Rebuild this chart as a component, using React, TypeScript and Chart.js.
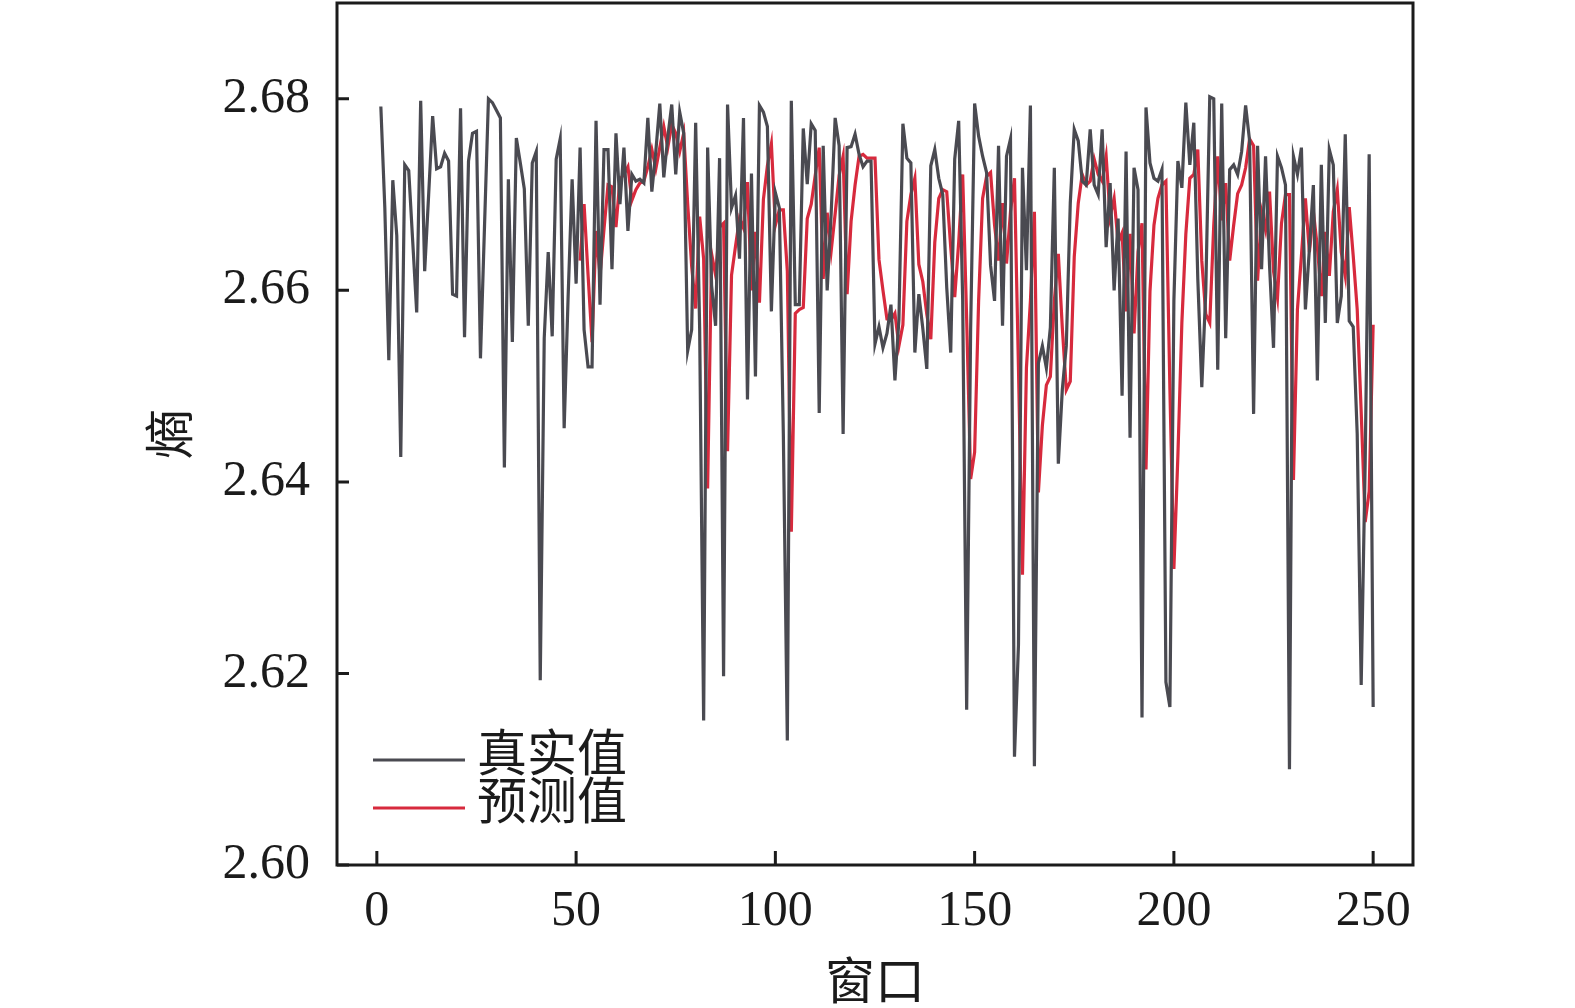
import React, { useEffect, useRef } from "react";
import { Chart, registerables } from "chart.js";

Chart.register(...registerables);

// window index of the first predicted value
const predStart = 51;

const trueValues = [
  2.6792, 2.6686, 2.6527, 2.6715, 2.6657, 2.6426, 2.6731, 2.6725, 2.6651, 2.6577,
  2.6798, 2.662, 2.67, 2.6782, 2.6727, 2.6729, 2.6743, 2.6735, 2.6596, 2.6594,
  2.679, 2.6551, 2.6735, 2.6764, 2.6766, 2.6529, 2.6665, 2.68, 2.6796, 2.6788,
  2.678, 2.6415, 2.6716, 2.6546, 2.6759, 2.6733, 2.6706, 2.6563, 2.6733, 2.6745,
  2.6193, 2.655, 2.664, 2.6552, 2.6737, 2.6758, 2.6456, 2.6594, 2.6716, 2.6607,
  2.6749, 2.6559, 2.652, 2.652, 2.6777, 2.6585, 2.6747, 2.6747, 2.6622, 2.6764,
  2.669, 2.6749, 2.6662, 2.6721, 2.6714, 2.6716, 2.6712, 2.678, 2.6703, 2.6745,
  2.6795, 2.6718, 2.676, 2.6794, 2.6721, 2.6786, 2.6764, 2.6537, 2.6559, 2.6775,
  2.656, 2.6151, 2.6749, 2.6605, 2.6563, 2.6738, 2.6197, 2.6794, 2.6686, 2.6699,
  2.6633, 2.678, 2.6486, 2.6722, 2.651, 2.6793, 2.6786, 2.6771, 2.6578, 2.6702,
  2.6686, 2.645, 2.613, 2.6798, 2.6585, 2.6585, 2.6769, 2.6711, 2.6774, 2.6767,
  2.6472, 2.6751, 2.66, 2.668, 2.678, 2.6751, 2.645, 2.6749, 2.675, 2.6763,
  2.6742, 2.6729, 2.6735, 2.6735, 2.6544, 2.6562, 2.654, 2.6555, 2.6585, 2.6506,
  2.6569, 2.6774, 2.6738, 2.6733, 2.6535, 2.6596, 2.656, 2.6518, 2.673, 2.6747,
  2.6717, 2.67, 2.6603, 2.6535, 2.6737, 2.6777, 2.659, 2.6162, 2.656, 2.6795,
  2.6761, 2.674, 2.6723, 2.6626, 2.6589, 2.6751, 2.6563, 2.674, 2.6758, 2.6113,
  2.623, 2.6728, 2.6621, 2.6793, 2.6103, 2.6524, 2.6542, 2.6519, 2.6561, 2.6728,
  2.6419, 2.6496, 2.6542, 2.6691, 2.6768, 2.6756, 2.6714, 2.671, 2.6768, 2.671,
  2.67, 2.6768, 2.6645, 2.6712, 2.66, 2.6675, 2.649, 2.6745, 2.6446, 2.6728,
  2.6705, 2.6154, 2.6791, 2.6733, 2.6717, 2.6714, 2.6726, 2.6191, 2.6165, 2.6589,
  2.6735, 2.6707, 2.6796, 2.6731, 2.6775, 2.6612, 2.6499, 2.6599, 2.6802, 2.68,
  2.6517, 2.6795, 2.655, 2.6726, 2.6731, 2.6721, 2.6745, 2.6793, 2.6756, 2.6471,
  2.6751, 2.6622, 2.674, 2.6626, 2.654, 2.674, 2.6728, 2.671, 2.61, 2.674,
  2.6721, 2.6749, 2.658, 2.6643, 2.671, 2.6506, 2.6731, 2.6566, 2.6747, 2.6731,
  2.6566, 2.6594, 2.6763, 2.6568, 2.6562, 2.645, 2.6188, 2.642, 2.6742, 2.6165,
];

const predValues = [
  2.6631, 2.669, 2.6616, 2.6546, 2.6662, 2.6616, 2.6664, 2.671, 2.6708, 2.6666,
  2.6716, 2.6721, 2.6729, 2.6694, 2.6705, 2.6712, 2.6714, 2.6729, 2.6747, 2.6727,
  2.6749, 2.6771, 2.6749, 2.6773, 2.6764, 2.6745, 2.6764, 2.669, 2.6625, 2.6581,
  2.6677, 2.6633, 2.6393, 2.6638, 2.6616, 2.6666, 2.667, 2.6432, 2.6616, 2.6646,
  2.6675, 2.6665, 2.6713, 2.66, 2.6661, 2.6587, 2.6695, 2.673, 2.6753, 2.6668,
  2.6684, 2.6684, 2.662, 2.6348, 2.6576, 2.658, 2.6582, 2.6675, 2.669, 2.672,
  2.6749, 2.6612, 2.6681, 2.6641, 2.668, 2.672, 2.674, 2.6596, 2.6672, 2.671,
  2.674, 2.6742, 2.6738, 2.6738, 2.6738, 2.6632, 2.66, 2.657, 2.6569, 2.6576,
  2.6542, 2.6564, 2.6672, 2.67, 2.6717, 2.6627, 2.6609, 2.6575, 2.6549, 2.665,
  2.6696, 2.6705, 2.6703, 2.6645, 2.6593, 2.665, 2.6721, 2.657, 2.6403, 2.6431,
  2.6589, 2.6696, 2.6719, 2.6723, 2.6668, 2.6631, 2.6691, 2.6628, 2.6682, 2.6717,
  2.6519, 2.6303, 2.6519, 2.6589, 2.6682, 2.6389, 2.6459, 2.6501, 2.651, 2.6589,
  2.6638, 2.6561, 2.6496, 2.6505, 2.6635, 2.6691, 2.6721, 2.671, 2.6714, 2.6737,
  2.6721, 2.6714, 2.674, 2.6677, 2.6696, 2.665, 2.666, 2.6578, 2.6659, 2.6555,
  2.664, 2.667, 2.6413, 2.6599, 2.6668, 2.6696, 2.671, 2.6714, 2.6497, 2.6309,
  2.6427, 2.6566, 2.6659, 2.6717, 2.6721, 2.6747, 2.6631, 2.6575, 2.6566, 2.6668,
  2.674, 2.6673, 2.6712, 2.6631, 2.6668, 2.6701, 2.671, 2.6728, 2.6758, 2.6751,
  2.661, 2.6682, 2.6663, 2.6703, 2.662, 2.6592, 2.667, 2.67, 2.67, 2.6402,
  2.658, 2.6636, 2.6696, 2.664, 2.6682, 2.6645, 2.6594, 2.6661, 2.6615, 2.6682,
  2.6705, 2.664, 2.6615, 2.6687, 2.6636, 2.658, 2.6473, 2.6358, 2.639, 2.6564,
];

const xTicks = [0, 50, 100, 150, 200, 250];
const yTicks = [2.6, 2.62, 2.64, 2.66, 2.68];

const seriesNames = ["真实值", "预测值"];
const seriesColors = ["#4a4a51", "#d72a3d"];

const FONT = "'Liberation Serif', 'Noto Sans CJK SC', serif";
const INK = "#1b1b1b";

const framePlugin = {
  id: "frame",
  afterDatasetsDraw(chart: any) {
    const { ctx, chartArea } = chart;
    const { left, right, top, bottom } = chartArea;
    const xs = chart.scales.x;
    const ys = chart.scales.y;
    ctx.save();
    ctx.strokeStyle = INK;
    ctx.lineWidth = 3;
    ctx.strokeRect(left, top, right - left, bottom - top);

    // inward ticks
    ctx.beginPath();
    yTicks.forEach((v) => {
      const y = ys.getPixelForValue(v);
      ctx.moveTo(left, y);
      ctx.lineTo(left + 12, y);
    });
    xTicks.forEach((v) => {
      const x = xs.getPixelForValue(v);
      ctx.moveTo(x, bottom);
      ctx.lineTo(x, bottom - 14);
    });
    ctx.stroke();

    // legend, bottom-left inside the plot
    ctx.font = `50px ${FONT}`;
    ctx.textBaseline = "middle";
    ctx.textAlign = "left";
    seriesNames.forEach((name, i) => {
      const y = bottom - 105 + i * 48;
      ctx.strokeStyle = seriesColors[i];
      ctx.lineWidth = 3;
      ctx.beginPath();
      ctx.moveTo(left + 36, y);
      ctx.lineTo(left + 128, y);
      ctx.stroke();
      ctx.fillStyle = INK;
      ctx.fillText(name, left + 140, y - 2);
    });
    ctx.restore();
  },
};

export default function App() {
  const canvasRef = useRef<HTMLCanvasElement | null>(null);

  useEffect(() => {
    document.body.style.margin = "0";
    if (!canvasRef.current) return;

    const chart = new Chart(canvasRef.current, {
      type: "line",
      data: {
        datasets: [
          {
            label: seriesNames[0],
            data: trueValues.map((v, k) => ({ x: k + 1, y: v })),
            borderColor: seriesColors[0],
            borderWidth: 3.2,
            pointRadius: 0,
            tension: 0,
          },
          {
            label: seriesNames[1],
            data: predValues.map((v, k) => ({ x: predStart + k, y: v })),
            borderColor: seriesColors[1],
            borderWidth: 3.2,
            pointRadius: 0,
            tension: 0,
          },
        ],
      },
      options: {
        responsive: false,
        animation: false,
        layout: { padding: { top: 3, right: 162, left: 0, bottom: 0 } },
        plugins: {
          legend: { display: false },
          tooltip: { enabled: false },
        },
        scales: {
          x: {
            type: "linear",
            position: "bottom",
            min: -10,
            max: 260,
            grid: { display: false, drawTicks: false },
            border: { display: false },
            afterBuildTicks: (s: any) => {
              s.ticks = xTicks.map((v) => ({ value: v }));
            },
            afterFit: (s: any) => {
              s.height = 143;
              s.paddingLeft = 0;
              s.paddingRight = 0;
            },
            ticks: {
              color: INK,
              font: { family: FONT, size: 50 },
              padding: 17,
              maxRotation: 0,
              autoSkip: false,
            },
            title: {
              display: true,
              text: "窗口",
              color: INK,
              font: { family: FONT, size: 50 },
              padding: { top: 0, bottom: -8 },
            },
          },
          y: {
            min: 2.6,
            max: 2.69,
            grid: { display: false, drawTicks: false },
            border: { display: false },
            afterBuildTicks: (s: any) => {
              s.ticks = yTicks.map((v) => ({ value: v }));
            },
            afterFit: (s: any) => {
              s.width = 337;
              s.paddingTop = 0;
              s.paddingBottom = 0;
            },
            ticks: {
              color: INK,
              font: { family: FONT, size: 50 },
              padding: 27,
              callback: (v: any) => Number(v).toFixed(2),
            },
            title: {
              display: true,
              text: "熵",
              color: INK,
              font: { family: FONT, size: 50 },
              padding: { top: 145, bottom: 0 },
            },
          },
        },
      },
      plugins: [framePlugin],
    });

    return () => chart.destroy();
  }, []);

  return (
    <div style={{ position: "fixed", left: 0, top: 0, width: 1575, height: 1008, background: "#fff" }}>
      <canvas ref={canvasRef} width={1575} height={1008} style={{ width: 1575, height: 1008 }} />
    </div>
  );
}
